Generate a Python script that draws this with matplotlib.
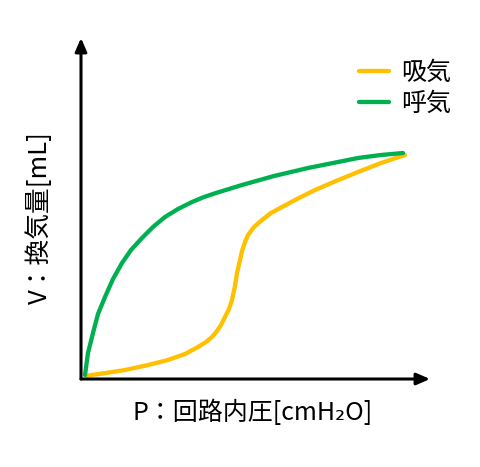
import matplotlib.pyplot as plt

plt.rcParams['font.family'] = ['Noto Sans CJK JP', 'DejaVu Sans']

# inspiration (吸気) branch, P vs V (arbitrary units)
insp_p = [0.57, 2.5, 4.4, 6.5, 8.7, 10.4, 11.7, 12.5, 13.1, 13.6, 14.0, 14.4,
          14.8, 15.1, 15.4, 15.6, 15.9, 16.1, 16.4, 16.7, 17.3, 18.1, 19.0,
          20.1, 21.6, 23.4, 25.5, 27.7, 30.0, 32.4]
insp_v = [0.33, 0.6, 0.9, 1.35, 1.9, 2.5, 3.2, 3.7, 4.2, 4.8, 5.4, 6.2,
          7.0, 7.9, 9.3, 10.6, 11.9, 12.8, 13.7, 14.4, 15.2, 15.9, 16.6,
          17.2, 18.0, 18.9, 19.8, 20.7, 21.6, 22.4]

# expiration (呼気) branch
exp_p = [0.4, 0.7, 1.2, 1.7, 2.4, 3.2, 4.1, 5.0, 6.1, 7.2, 8.4, 9.7, 11.1,
         12.3, 13.5, 14.8, 16.1, 17.7, 19.3, 21.0, 22.7, 25.2, 27.7, 30.0,
         32.2]
exp_v = [0.4, 2.6, 4.6, 6.5, 8.2, 10.0, 11.6, 12.9, 14.1, 15.2, 16.2, 17.0,
         17.7, 18.2, 18.6, 19.0, 19.4, 19.85, 20.3, 20.7, 21.1, 21.6, 22.1,
         22.4, 22.6]

labels = ['吸気', '呼気']
colors = ['#FFC000', '#00B050']

fig = plt.figure(figsize=(4.8, 4.67), dpi=100)
ax = fig.add_axes([81/480, 88/467, 349/480, 341/467])
ax.set_xlim(0, 34.9)
ax.set_ylim(0, 34.1)

ax.plot(insp_p, insp_v, color=colors[0], lw=3.1, solid_capstyle='round',
        solid_joinstyle='round', label=labels[0])
ax.plot(exp_p, exp_v, color=colors[1], lw=3.1, solid_capstyle='round',
        solid_joinstyle='round', label=labels[1])

# axes drawn as arrows
for s in ax.spines.values():
    s.set_visible(False)
ax.set_xticks([])
ax.set_yticks([])
ax.annotate('', xy=(1.0, 0), xytext=(0, 0), xycoords='axes fraction',
            arrowprops=dict(arrowstyle='-|>,head_length=0.8,head_width=0.35',
                            color='black', lw=2.2, shrinkA=0, shrinkB=0))
ax.annotate('', xy=(0, 1.0), xytext=(0, 0), xycoords='axes fraction',
            arrowprops=dict(arrowstyle='-|>,head_length=0.8,head_width=0.35',
                            color='black', lw=2.2, shrinkA=0, shrinkB=0))

leg = ax.legend(loc='upper left', bbox_to_anchor=(346/480, 1 - 47/467),
                bbox_transform=fig.transFigure, frameon=False,
                fontsize=18, handlelength=1.2, handletextpad=0.5,
                labelspacing=0.2, borderpad=0)

fig.text(253/480, 1 - 413/467, 'P：回路内圧[cmH₂O]', fontsize=18,
         ha='center', va='center')
fig.text(40/480, 1 - 218/467, 'V：換気量[mL]', fontsize=18.5,
         ha='center', va='center', rotation=90)

fig.savefig('out.png', dpi=100)
